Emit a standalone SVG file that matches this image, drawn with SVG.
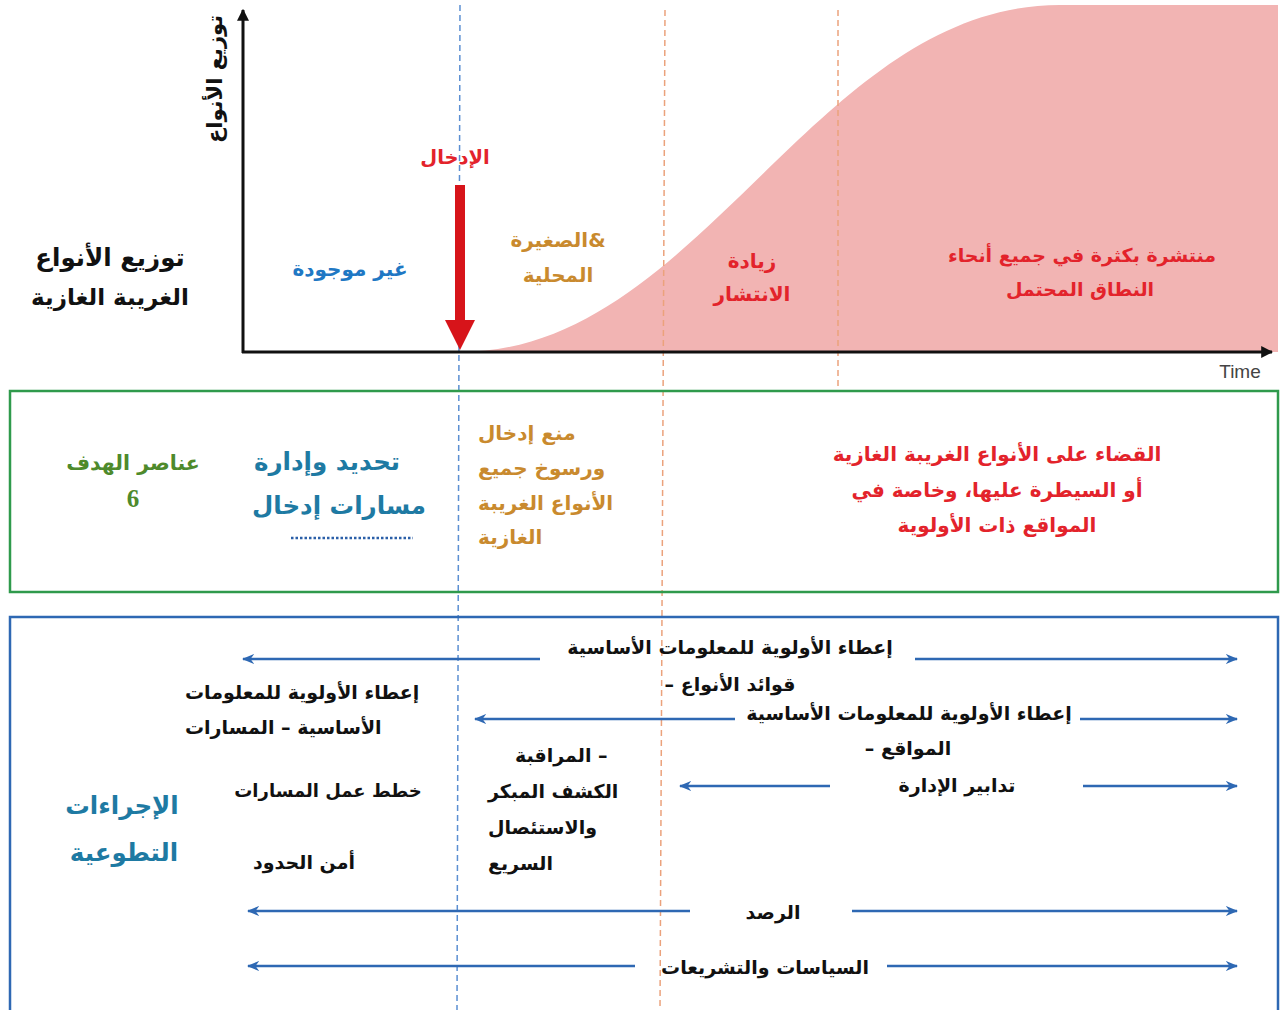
<svg xmlns="http://www.w3.org/2000/svg" width="1280" height="1010" viewBox="0 0 1280 1010">
<style>
text{font-family:"DejaVu Sans","Noto Sans",sans-serif;font-weight:bold;}
.c{text-anchor:middle;}
.blk{fill:#111;font-size:19px;}
.red{fill:#e3232b;font-size:20px;}
.org{fill:#c98a2e;font-size:20px;}
.teal{fill:#1e7aa3;font-size:24.5px;}
.arr{stroke:#2e68b3;stroke-width:2.5;fill:none;}
.dblue{stroke:#5b8fd2;stroke-width:1.5;stroke-dasharray:6 4;fill:none;}
.dorg{stroke:#eba27c;stroke-width:1.5;stroke-dasharray:6 4;fill:none;}
</style>
<defs>
<marker id="ah" viewBox="0 0 10 10" refX="9" refY="5" markerWidth="5" markerHeight="5" orient="auto-start-reverse" markerUnits="strokeWidth">
<path d="M0,1 L10,5 L0,9 L3,5 Z" fill="#2e68b3"/>
</marker>
<marker id="kh" viewBox="0 0 10 10" refX="9" refY="5" markerWidth="4" markerHeight="4" orient="auto" markerUnits="strokeWidth">
<path d="M0,0 L10,5 L0,10 Z" fill="#111"/>
</marker>
</defs>
<rect width="1280" height="1010" fill="#fff"/>
<g id="curve">
<path d="M460,352 C700,352 815,5 1060,5 L1278,5 L1278,352 Z" fill="#f2b4b3"/>
</g>
<g id="guides">
<line class="dblue" x1="460" y1="5" x2="457" y2="1010"/>
<line class="dorg" x1="665" y1="10" x2="660" y2="1010"/>
<line class="dorg" x1="838" y1="10" x2="838" y2="388"/>
</g>
<g id="axes">
<line x1="243" y1="353" x2="243" y2="10" stroke="#111" stroke-width="3" marker-end="url(#kh)"/>
<line x1="242" y1="352" x2="1272" y2="352" stroke="#111" stroke-width="3" marker-end="url(#kh)"/>
<text x="0" y="0" transform="translate(222,79) rotate(-90)" class="c blk" style="font-size:21px">توزيع الأنواع</text>
<text x="1240" y="378" class="c" style="font-family:'Liberation Sans',Arial,sans-serif;font-weight:normal;font-size:19px;fill:#444">Time</text>
</g>
<g id="title">
<text x="110" y="266" class="c blk" style="font-size:24.5px">توزيع الأنواع</text>
<text x="110" y="305" class="c blk" style="font-size:23px">الغريبة الغازية</text>
</g>
<g id="absent">
<text x="350" y="276" class="c" style="fill:#1f78c4;font-size:20px">غير موجودة</text>
</g>
<g id="introduction">
<text x="455" y="164" class="c red" style="font-size:19.5px">الإدخال</text>
<rect x="455" y="185" width="10" height="137" fill="#d7141a"/>
<path d="M445,320 L475,320 L460,350 Z" fill="#d7141a"/>
</g>
<g id="small">
<text x="558" y="247" class="c org">الصغيرة&amp;</text>
<text x="558" y="282" class="c org">المحلية</text>
</g>
<g id="spread">
<text x="752" y="268" class="c red">زيادة</text>
<text x="752" y="301" class="c red">الانتشار</text>
</g>
<g id="widespread">
<text x="1082" y="262" class="c red" style="font-size:19px">منتشرة بكثرة في جميع أنحاء</text>
<text x="1080" y="296" class="c red" style="font-size:19px">النطاق المحتمل</text>
</g>
<g id="targets">
<rect x="10" y="391" width="1268" height="201" fill="none" stroke="#2f9a4c" stroke-width="2.5"/>
<text x="133" y="470" class="c" style="fill:#4e8a2c;font-size:20.5px">عناصر الهدف</text>
<text x="133" y="507" class="c" style="fill:#4e8a2c;font-size:25px;font-family:'Liberation Serif',serif">6</text>
<text x="327" y="470" class="c teal">تحديد وإدارة</text>
<text x="339" y="514" class="c teal">مسارات إدخال</text>
<line x1="291" y1="538" x2="413" y2="538" stroke="#2b5fa8" stroke-width="2.5" stroke-dasharray="2.5 2"/>
<text x="478" y="440" class="org">منع إدخال</text>
<text x="478" y="475" class="org">ورسوخ جميع</text>
<text x="478" y="510" class="org">الأنواع الغريبة</text>
<text x="478" y="544" class="org">الغازية</text>
<text x="997" y="461" class="c red">القضاء على الأنواع الغريبة الغازية</text>
<text x="997" y="497" class="c red">أو السيطرة عليها، وخاصة في</text>
<text x="997" y="532" class="c red">المواقع ذات الأولوية</text>
</g>
<g id="actions">
<rect x="10" y="617" width="1268" height="400" fill="none" stroke="#2e68b3" stroke-width="2.5"/>
<text x="122" y="814" class="c teal">الإجراءات</text>
<text x="124" y="861" class="c teal">التطوعية</text>
<text x="730" y="654" class="c blk">إعطاء الأولوية للمعلومات الأساسية</text>
<text x="730" y="691" class="c blk">– قوائد الأنواع</text>
<text x="185" y="699" class="blk">إعطاء الأولوية للمعلومات</text>
<text x="185" y="734" class="blk">الأساسية – المسارات</text>
<text x="909" y="720" class="c blk">إعطاء الأولوية للمعلومات الأساسية</text>
<text x="908" y="755" class="c blk">– المواقع</text>
<text x="957" y="792" class="c blk">تدابير الإدارة</text>
<text x="515" y="762" class="blk">المراقبة –</text>
<text x="488" y="798" class="blk">الكشف المبكر</text>
<text x="488" y="834" class="blk">والاستئصال</text>
<text x="488" y="870" class="blk">السريع</text>
<text x="328" y="797" class="c blk" style="font-size:18px">خطط عمل المسارات</text>
<text x="304" y="869" class="c blk">أمن الحدود</text>
<text x="773" y="919" class="c blk">الرصد</text>
<text x="765" y="974" class="c blk">السياسات والتشريعات</text>
</g>
<g id="connectors">
<line class="arr" x1="540" y1="659" x2="243" y2="659" marker-end="url(#ah)"/>
<line class="arr" x1="915" y1="659" x2="1237" y2="659" marker-end="url(#ah)"/>
<line class="arr" x1="735" y1="719" x2="475" y2="719" marker-end="url(#ah)"/>
<line class="arr" x1="1080" y1="719" x2="1237" y2="719" marker-end="url(#ah)"/>
<line class="arr" x1="830" y1="786" x2="680" y2="786" marker-end="url(#ah)"/>
<line class="arr" x1="1083" y1="786" x2="1237" y2="786" marker-end="url(#ah)"/>
<line class="arr" x1="690" y1="911" x2="248" y2="911" marker-end="url(#ah)"/>
<line class="arr" x1="852" y1="911" x2="1237" y2="911" marker-end="url(#ah)"/>
<line class="arr" x1="635" y1="966" x2="248" y2="966" marker-end="url(#ah)"/>
<line class="arr" x1="887" y1="966" x2="1237" y2="966" marker-end="url(#ah)"/>
</g>
</svg>
